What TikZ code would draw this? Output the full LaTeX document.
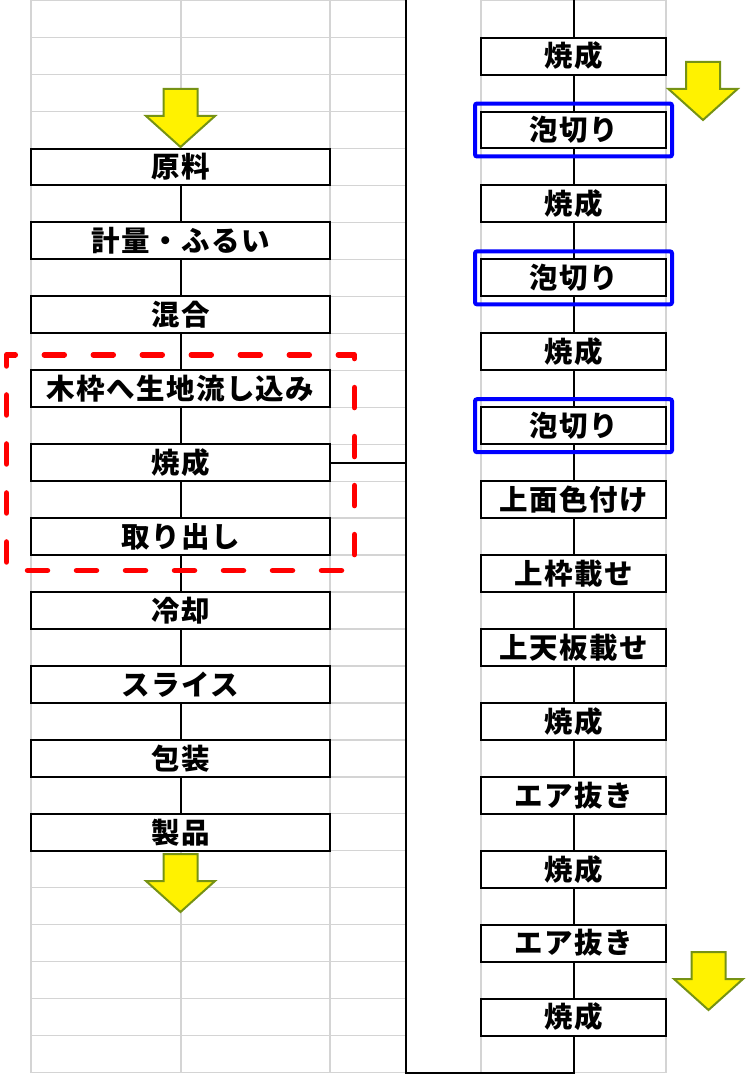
\documentclass[tikz,border=0pt]{standalone}
\usepackage{fontspec}
\newfontfamily\jpfont{Noto Sans CJK JP}[LetterSpace=5]
\usetikzlibrary{positioning,fit}
\definecolor{gridgray}{RGB}{212,212,212}
\definecolor{arrowrim}{RGB}{118,146,20}
\tikzset{node distance=36.96pt}
\tikzset{
  gridline/.style={gridgray,line width=1.3pt},
  stepcell/.style={draw,line width=2pt,fill=white,minimum height=36.96pt,inner sep=0pt,outer sep=0pt,
    font=\jpfont\bfseries\fontsize{28.5}{30}\selectfont},
  leftcell/.style={stepcell,minimum width=299pt},
  rightcell/.style={stepcell,minimum width=185pt},
  link/.style={line width=2pt},
  foamframe/.style={draw=blue,line width=4pt,rounded corners=2pt,inner xsep=6pt,inner ysep=8pt,outer sep=0pt},
  ovenframe/.style={draw=red,line width=5.5pt,dash pattern=on 20pt off 29pt,dash phase=28pt,
    line cap=round,line join=round,inner xsep=24.5pt,inner ysep=15.5pt,outer sep=0pt},
  bigarrow/.style={fill=yellow,draw=arrowrim,line width=2pt}
}
% yellow block arrow: centre x, top y
\newcommand{\flowarrow}[2]{%
  \draw[bigarrow] ({#1-17},#2) -- ({#1+17},#2) -- ({#1+17},{#2+27}) -- ({#1+34.5},{#2+27})
    -- (#1,{#2+58}) -- ({#1-34.5},{#2+27}) -- ({#1-17},{#2+27}) -- cycle;}

\begin{document}
\begin{tikzpicture}[x=1pt,y=-1pt]
  \useasboundingbox (0,0) rectangle (745,1075);
  % sheet grid
  \foreach \k in {0,...,29} {
    \draw[gridline] (31,{0.7+36.96*\k}) -- (406,{0.7+36.96*\k});
    \draw[gridline] (481,{0.7+36.96*\k}) -- (666,{0.7+36.96*\k});
  }
  \foreach \gx in {31,181,330,481,666}
    \draw[gridline] (\gx,0) -- (\gx,1072.6);

  % main line
  \node[leftcell] (raw) at (180.5,167.0) {原料};
  \node[leftcell,below=of raw] (weigh) {計量・ふるい};
  \node[leftcell,below=of weigh] (mix) {混合};
  \node[leftcell,below=of mix] (pour) {木枠へ生地流し込み};
  \node[leftcell,below=of pour] (bake) {焼成};
  \node[leftcell,below=of bake] (takeout) {取り出し};
  \node[leftcell,below=of takeout] (cool) {冷却};
  \node[leftcell,below=of cool] (slice) {スライス};
  \node[leftcell,below=of slice] (wrap) {包装};
  \node[leftcell,below=of wrap] (product) {製品};

  % baking detail
  \node[rightcell] (bakeA) at (573.5,56.1) {焼成};
  \node[rightcell,below=of bakeA] (foamA) {泡切り};
  \node[rightcell,below=of foamA] (bakeB) {焼成};
  \node[rightcell,below=of bakeB] (foamB) {泡切り};
  \node[rightcell,below=of foamB] (bakeC) {焼成};
  \node[rightcell,below=of bakeC] (foamC) {泡切り};
  \node[rightcell,below=of foamC] (colour) {上面色付け};
  \node[rightcell,below=of colour] (upframe) {上枠載せ};
  \node[rightcell,below=of upframe] (uppanel) {上天板載せ};
  \node[rightcell,below=of uppanel] (bakeD) {焼成};
  \node[rightcell,below=of bakeD] (airA) {エア抜き};
  \node[rightcell,below=of airA] (bakeE) {焼成};
  \node[rightcell,below=of bakeE] (airB) {エア抜き};
  \node[rightcell,below=of airB] (bakeF) {焼成};

  \coordinate (rtop) at (573.5,0);
  \coordinate (ltop) at (406,0);
  \coordinate (rbottom) at (573.5,1072.6);
  \coordinate (lbottom) at (406,1072.6);

  \draw[link] (raw) -- (weigh) (weigh) -- (mix) (mix) -- (pour) (pour) -- (bake)
    (bake) -- (takeout) (takeout) -- (cool) (cool) -- (slice) (slice) -- (wrap)
    (wrap) -- (product);
  \draw[link] (rtop) -- (bakeA) (bakeA) -- (foamA) (foamA) -- (bakeB) (bakeB) -- (foamB)
    (foamB) -- (bakeC) (bakeC) -- (foamC) (foamC) -- (colour) (colour) -- (upframe)
    (upframe) -- (uppanel) (uppanel) -- (bakeD) (bakeD) -- (airA) (airA) -- (bakeE)
    (bakeE) -- (airB) (airB) -- (bakeF);
  \draw[link] (bakeF) -- (rbottom) -- (lbottom) -- (ltop);
  \draw[link] (bake.east) -- (bake.east -| ltop);

  \node[foamframe,fit=(foamA)] (foamAbox) {};
  \node[foamframe,fit=(foamB)] (foamBbox) {};
  \node[foamframe,fit=(foamC)] (foamCbox) {};
  \node[ovenframe,fit=(pour)(takeout)] (ovenzone) {};

  \flowarrow{180.5}{89}
  \flowarrow{180.5}{854}
  \flowarrow{703}{62}
  \flowarrow{708.5}{952}
\end{tikzpicture}
\end{document}
